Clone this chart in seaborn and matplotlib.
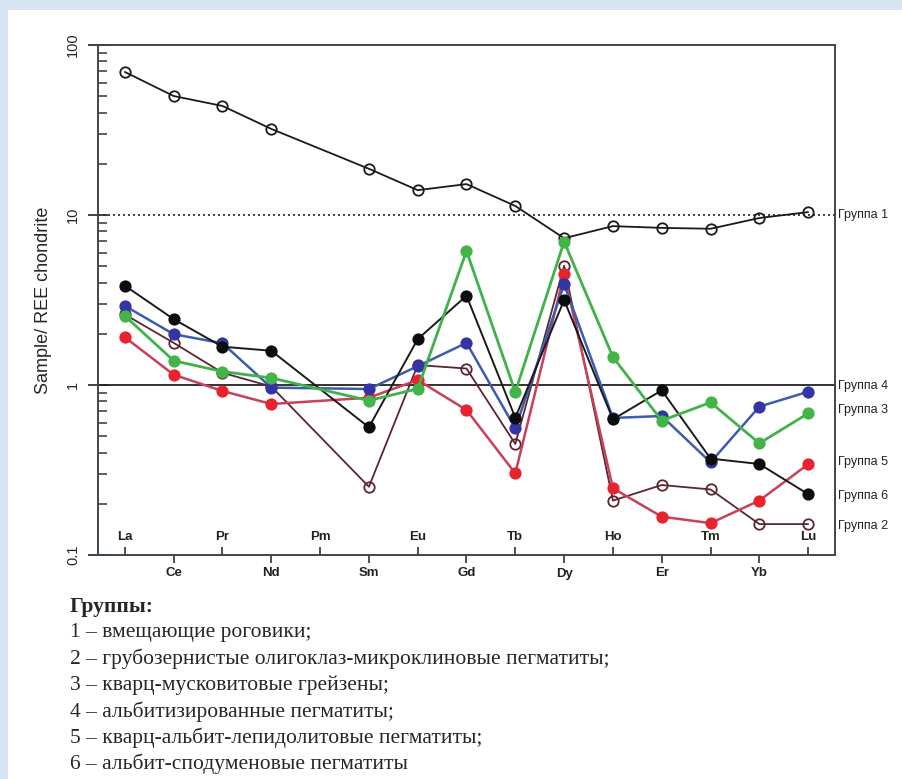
import numpy as np
import pandas as pd
import matplotlib
matplotlib.use("Agg")
import matplotlib.pyplot as plt
import matplotlib.ticker as mticker
from matplotlib.patches import Rectangle
import seaborn as sns

# REE elements along the x axis (Pm has no data)
elements = ['La', 'Ce', 'Pr', 'Nd', 'Pm', 'Sm', 'Eu', 'Gd', 'Tb', 'Dy', 'Ho', 'Er', 'Tm', 'Yb', 'Lu']
measured = ['La', 'Ce', 'Pr', 'Nd', 'Sm', 'Eu', 'Gd', 'Tb', 'Dy', 'Ho', 'Er', 'Tm', 'Yb', 'Lu']

# chondrite-normalised values
group1 = [69.4, 50.1, 43.8, 32.1, 18.7, 14.0, 15.2, 11.3, 7.3, 8.6, 8.4, 8.3, 9.6, 10.4]
group2 = [2.6, 1.77, 1.18, 0.98, 0.252, 1.31, 1.25, 0.45, 5.03, 0.209, 0.258, 0.243, 0.152, 0.152]
group3 = [2.55, 1.39, 1.20, 1.10, 0.81, 0.95, 6.14, 0.91, 6.97, 1.46, 0.617, 0.79, 0.454, 0.681]
group4 = [2.92, 1.99, 1.76, 0.965, 0.947, 1.29, 1.77, 0.556, 3.91, 0.64, 0.657, 0.351, 0.746, 0.913]
group5 = [1.91, 1.15, 0.922, 0.773, 0.842, 1.07, 0.713, 0.302, 4.48, 0.247, 0.168, 0.154, 0.209, 0.342]
group6 = [3.84, 2.44, 1.68, 1.59, 0.564, 1.86, 3.35, 0.642, 3.16, 0.628, 0.93, 0.369, 0.343, 0.228]

# labels on the right side and the value where each one sits
side_labels = ['Группа 1', 'Группа 4', 'Группа 3', 'Группа 5', 'Группа 6', 'Группа 2']
side_label_y = [10.0, 0.99, 0.713, 0.352, 0.222, 0.148]

legend_title = 'Группы:'
legend_lines = [
    '1 – вмещающие роговики;',
    '2 – грубозернистые олигоклаз-микроклиновые пегматиты;',
    '3 – кварц-мусковитовые грейзены;',
    '4 – альбитизированные пегматиты;',
    '5 – кварц-альбит-лепидолитовые пегматиты;',
    '6 – альбит-сподуменовые пегматиты',
]

sns.set_style('white')
plt.rcParams['font.family'] = ['Liberation Sans', 'DejaVu Sans']

fig = plt.figure(figsize=(9.02, 7.79), dpi=100)
fig.patch.set_facecolor('#d6e4f3')
fig.patches.append(Rectangle((8 / 902, 0), 1, 769 / 779, transform=fig.transFigure,
                             facecolor='white', edgecolor='none', zorder=-10))

ax = fig.add_axes([98 / 902, 1 - 555 / 779, 737 / 902, 510 / 779])
ax.set_facecolor('white')

xpos = [elements.index(e) for e in measured]
df = pd.DataFrame({'x': xpos, 'g1': group1, 'g2': group2, 'g3': group3,
                   'g4': group4, 'g5': group5, 'g6': group6})

styles = [
    ('g1', '#1a1a1a', 'none', '#1a1a1a', 1.3),
    ('g2', '#5a2630', 'none', '#5a2630', 1.3),
    ('g5', '#c8405a', '#e8232d', '#e8232d', 1.8),
    ('g4', '#3c5cb0', '#3434a6', '#3434a6', 1.8),
    ('g6', '#1a1a1a', '#0d0d0d', '#0d0d0d', 1.4),
    ('g3', '#3fb24a', '#43b548', '#43b548', 2.0),
]
for col, lc, fc, ec, lw in styles:
    sns.lineplot(data=df, x='x', y=col, ax=ax, color=lc, linewidth=lw,
                 marker='o', markersize=7.5, markerfacecolor=fc,
                 markeredgecolor=ec, markeredgewidth=1.3, sort=False)

ax.axhline(10, color='#222222', linestyle=(0, (1.2, 1.8)), linewidth=1.2, zorder=1)
ax.axhline(1, color='#222222', linewidth=1.3, zorder=1)

ax.set_yscale('log')
ax.set_ylim(0.1, 100)
ax.set_xlim(-0.55, 14.55)

# y axis ticks
ax.yaxis.set_major_locator(mticker.FixedLocator([0.1, 1, 10, 100]))
ax.yaxis.set_major_formatter(mticker.FixedFormatter(['0.1', '1', '10', '100']))
ax.yaxis.set_minor_locator(mticker.LogLocator(base=10, subs=np.arange(2, 10)))
ax.yaxis.set_minor_formatter(mticker.NullFormatter())
ax.tick_params(axis='y', which='both', left=True, right=False)
ax.tick_params(axis='y', which='major', direction='inout', length=14, width=1.3,
               color='#333333', labelsize=10.5, pad=6)
ax.tick_params(axis='y', which='minor', direction='in', length=6.5, width=1.1, color='#333333')
for lab in ax.get_yticklabels():
    lab.set_rotation(90)
    lab.set_va('center')

# x axis: odd elements below (outward ticks), even elements inside (inward ticks)
odd = [i for i in range(len(elements)) if i % 2 == 1]
even = [i for i in range(len(elements)) if i % 2 == 0]
ax.xaxis.set_major_locator(mticker.FixedLocator(odd))
ax.xaxis.set_major_formatter(mticker.FixedFormatter([elements[i] for i in odd]))
ax.xaxis.set_minor_locator(mticker.FixedLocator(even))
ax.xaxis.set_minor_formatter(mticker.FixedFormatter([elements[i] for i in even]))
ax.tick_params(axis='x', which='both', bottom=True, top=False)
ax.tick_params(axis='x', which='major', direction='out', length=6, width=1.2,
               color='#333333', labelsize=9.5, pad=3)
ax.tick_params(axis='x', which='minor', direction='in', length=6, width=1.2,
               color='#333333', labelsize=9.5, pad=-17)
for lab in ax.get_xticklabels(which='both'):
    lab.set_fontweight('bold')
    lab.set_color('#222222')

for side in ['left', 'right', 'top', 'bottom']:
    ax.spines[side].set_visible(True)
    ax.spines[side].set_color('#3c474d')
    ax.spines[side].set_linewidth(1.4)

ax.set_xlabel('')
ax.set_ylabel('Sample/ REE chondrite', fontsize=13, labelpad=10)

trans = matplotlib.transforms.blended_transform_factory(ax.transAxes, ax.transData)
for txt, yv in zip(side_labels, side_label_y):
    ax.text(1.004, yv, txt, transform=trans, fontsize=9, va='center', ha='left',
            color='#222222')

# legend text under the chart
serif = ['Liberation Serif', 'DejaVu Serif']
fig.text(70 / 902, 1 - 607 / 779, legend_title, fontsize=15.5, fontweight='bold',
         family=serif, va='center', ha='left')
for k, line in enumerate(legend_lines):
    fig.text(70 / 902, 1 - (633 + 26.2 * k) / 779, line, fontsize=15.5,
             family=serif, va='center', ha='left')

fig.savefig('out.png', dpi=100, facecolor=fig.get_facecolor())
